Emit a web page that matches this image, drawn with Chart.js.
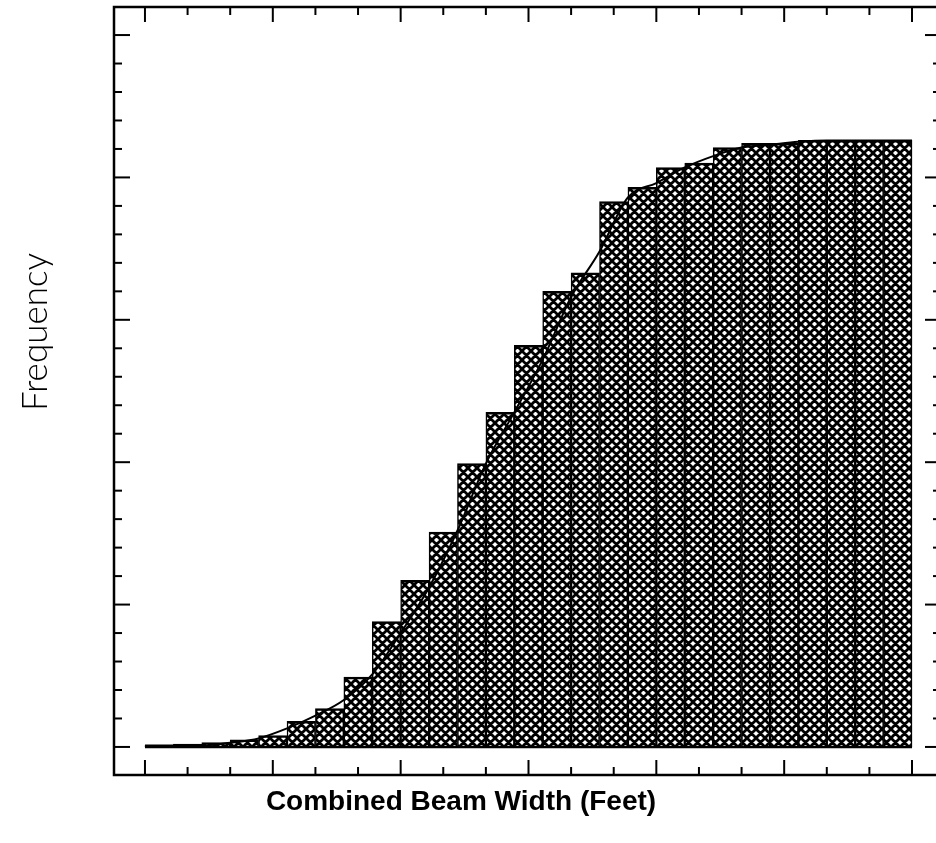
<!DOCTYPE html>
<html>
<head>
<meta charset="utf-8">
<title>Combined Beam Width</title>
<script src="https://cdn.jsdelivr.net/npm/chart.js@4.4.1/dist/chart.umd.min.js"></script>
<style>
  html, body { margin: 0; padding: 0; background: #fff; overflow: hidden; }
  #wrap { position: relative; width: 942px; height: 843px; }
</style>
</head>
<body>
<div id="wrap"><canvas id="chart"></canvas></div>
<script>
// bin centres (bin units) and bar heights (frequency, axis units)
const binCenters = [0.5, 1.5, 2.5, 3.5, 4.5, 5.5, 6.5, 7.5, 8.5, 9.5, 10.5, 11.5, 12.5, 13.5,
  14.5, 15.5, 16.5, 17.5, 18.5, 19.5, 20.5, 21.5, 22.5, 23.5, 24.5, 25.5, 26.5];
const barHeights = [0.01, 0.02, 0.03, 0.05, 0.08, 0.18, 0.27, 0.49, 0.88, 1.17, 1.51, 1.99, 2.35, 2.82,
  3.20, 3.33, 3.83, 3.93, 4.07, 4.10, 4.21, 4.24, 4.24, 4.26, 4.26, 4.26, 4.26];

// fitted curve, read at the bin edges
const curveX = [0, 1, 2, 3, 4, 5, 6, 7, 8, 9, 10, 11, 12, 13, 14, 15, 16, 17, 18, 19, 20,
  21, 22, 23, 24, 25, 26, 27];
const curveY = [0.01, 0.01, 0.01, 0.03, 0.06, 0.13, 0.22, 0.33, 0.51, 0.80, 1.12, 1.52, 1.99, 2.35,
  2.72, 3.16, 3.48, 3.86, 3.96, 4.07, 4.15, 4.21, 4.23, 4.25, 4.26, 4.26, 4.26, 4.26];

// axis ticks (no labels on the original)
const xMajorTicks = [0, 4.5, 9, 13.5, 18, 22.5, 27];
const xMinorTicks = [1.5, 3, 6, 7.5, 10.5, 12, 15, 16.5, 19.5, 21, 24, 25.5];
const yMajorTicks = [0, 1, 2, 3, 4, 5];
const yMinorTicks = [0.2, 0.4, 0.6, 0.8, 1.2, 1.4, 1.6, 1.8, 2.2, 2.4, 2.6, 2.8,
  3.2, 3.4, 3.6, 3.8, 4.2, 4.4, 4.6, 4.8];

const xTitle = 'Combined Beam Width (Feet)';
const yTitle = 'Frequency';

// crosshatch fill
function hatch() {
  const s = 9;
  const c = document.createElement('canvas');
  c.width = c.height = s;
  const g = c.getContext('2d');
  g.fillStyle = '#fff';
  g.fillRect(0, 0, s, s);
  g.strokeStyle = '#000';
  g.lineWidth = 2.8;
  g.beginPath();
  [-s, 0, s].forEach(o => {
    g.moveTo(o, 0); g.lineTo(o + s, s);
    g.moveTo(o, s); g.lineTo(o + s, 0);
  });
  g.stroke();
  return g.createPattern(c, 'repeat');
}

// frame, inward ticks and titles
const framePlugin = {
  id: 'frame',
  afterDraw(chart) {
    const {ctx, chartArea: a, scales: {x, y}} = chart;
    const seg = (x1, y1, x2, y2) => { ctx.beginPath(); ctx.moveTo(x1, y1); ctx.lineTo(x2, y2); ctx.stroke(); };
    ctx.save();
    ctx.strokeStyle = '#000';

    // baseline under the bars
    ctx.lineWidth = 2.5;
    seg(x.getPixelForValue(0), y.getPixelForValue(0), x.getPixelForValue(27), y.getPixelForValue(0));

    ctx.strokeRect(a.left, a.top, a.right - a.left, a.bottom - a.top);

    ctx.lineWidth = 2;
    const xt = (list, len) => list.forEach(v => {
      const p = x.getPixelForValue(v);
      seg(p, a.top, p, a.top + len);
      seg(p, a.bottom, p, a.bottom - len);
    });
    const yt = (list, len) => list.forEach(v => {
      const p = y.getPixelForValue(v);
      seg(a.left, p, a.left + len, p);
      seg(a.right, p, a.right - len, p);
    });
    xt(xMajorTicks, 15); xt(xMinorTicks, 8);
    yt(yMajorTicks, 16); yt(yMinorTicks, 8);

    ctx.fillStyle = '#000';
    ctx.textAlign = 'center';
    ctx.textBaseline = 'alphabetic';
    ctx.font = 'bold 28px "Liberation Sans", Arial, sans-serif';
    ctx.fillText(xTitle, 461, 810);

    ctx.translate(47, 332);
    ctx.rotate(-Math.PI / 2);
    ctx.font = '300 35px Lato, "Noto Sans", sans-serif';
    ctx.fillText(yTitle, 0, 0);
    ctx.restore();
  }
};

new Chart(document.getElementById('chart'), {
  data: {
    datasets: [
      {
        type: 'line',
        data: curveX.map((v, i) => ({x: v, y: curveY[i]})),
        borderColor: '#000',
        borderWidth: 2,
        pointRadius: 0,
        cubicInterpolationMode: 'monotone',
        fill: false,
        order: 0
      },
      {
        type: 'bar',
        data: binCenters.map((v, i) => ({x: v, y: barHeights[i]})),
        backgroundColor: hatch(),
        borderColor: '#000',
        borderWidth: {top: 2.5, left: 1.5, right: 1.5, bottom: 0},
        borderSkipped: false,
        barPercentage: 1,
        categoryPercentage: 1,
        order: 1
      }
    ]
  },
  options: {
    responsive: true,
    maintainAspectRatio: false,
    animation: false,
    layout: {padding: {left: 114, top: 7, right: 1, bottom: 68}},
    plugins: {legend: {display: false}, tooltip: {enabled: false}},
    scales: {
      x: {type: 'linear', display: false, offset: false, min: -1.09, max: 28.02},
      y: {type: 'linear', display: false, min: -0.197, max: 5.197}
    }
  },
  plugins: [framePlugin]
});
</script>
</body>
</html>
